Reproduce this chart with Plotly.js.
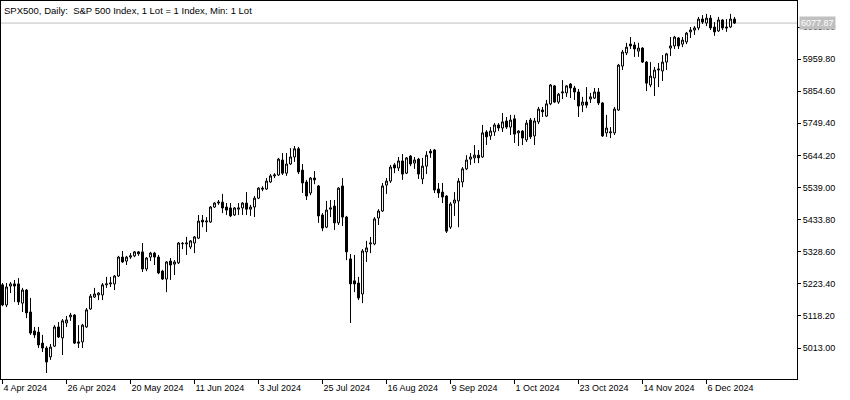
<!DOCTYPE html>
<html><head><meta charset="utf-8">
<script src="https://cdn.plot.ly/plotly-3.0.1.min.js"></script>
<style>html,body{margin:0;padding:0;background:#fff;} #chart{width:850px;height:400px;}</style>
</head><body><div id="chart"></div>
<script>
const openPrices = [5220,5154,5216,5223,5223,5160,5203,5131,5069,5065,5029,5013,4984,5019,5082,5046,5095,5115,5121,5033,
5033,5082,5141,5180,5187,5187,5220,5223,5223,5249,5311,5298,5311,5315,5328,5328,5272,5311,5324,5311,
5265,5239,5298,5288,5292,5356,5354,5344,5357,5373,5432,5426,5426,5475,5488,5491,5475,5472,5449,5468,
5472,5488,5468,5475,5504,5537,5534,5557,5577,5580,5629,5586,5616,5639,5666,5596,5557,5521,5570,5544,
5449,5409,5468,5478,5423,5544,5442,5305,5233,5226,5190,5328,5354,5354,5439,5462,5547,5560,5613,5603,
5626,5586,5642,5619,5632,5567,5609,5658,5662,5534,5524,5511,5409,5488,5495,5557,5600,5632,5636,5645,
5639,5721,5708,5721,5744,5734,5757,5737,5764,5718,5724,5695,5760,5708,5754,5793,5773,5813,5872,5819,
5849,5849,5878,5865,5852,5809,5819,5829,5832,5852,5816,5718,5718,5718,5793,5937,5980,6009,6006,5986,
5996,5950,5875,5898,5924,5921,5950,5996,6003,6029,6009,6016,6049,6055,6062,6091,6078,6094,6065,6052,
6088,6065,6065,6091];
const highPrices = [5226,5226,5229,5236,5242,5210,5206,5177,5082,5082,5056,5019,5026,5088,5098,5108,5118,5128,5124,5088,
5092,5144,5190,5210,5196,5226,5246,5246,5252,5315,5331,5315,5324,5331,5331,5357,5311,5328,5328,5318,
5269,5298,5308,5301,5360,5360,5377,5367,5380,5449,5449,5442,5478,5491,5498,5518,5488,5488,5475,5488,
5491,5524,5482,5511,5540,5543,5570,5583,5586,5636,5652,5652,5668,5675,5672,5616,5564,5573,5593,5547,
5455,5495,5498,5498,5540,5570,5446,5321,5318,5246,5337,5364,5377,5442,5468,5554,5570,5613,5619,5639,
5649,5639,5645,5639,5636,5636,5658,5665,5665,5554,5554,5514,5491,5524,5570,5606,5645,5652,5678,5662,
5744,5727,5737,5750,5750,5783,5770,5777,5777,5727,5727,5760,5767,5767,5803,5803,5826,5878,5875,5849,
5891,5875,5881,5872,5862,5836,5868,5849,5865,5865,5819,5777,5737,5803,5944,5990,6013,6032,6016,6013,
5999,5953,5950,5934,5947,5973,5980,6032,6036,6032,6032,6049,6065,6068,6098,6104,6108,6104,6081,6098,
6091,6091,6108,6098];
const lowPrices = [5150,5147,5193,5164,5154,5131,5111,5056,5046,5013,5000,4931,4974,5016,5046,4990,5082,5102,5026,5013,
5013,5079,5138,5177,5170,5170,5210,5213,5203,5246,5292,5285,5305,5311,5315,5262,5265,5298,5285,5255,
5236,5196,5236,5252,5288,5337,5318,5337,5324,5370,5409,5393,5423,5472,5482,5455,5449,5442,5446,5449,
5449,5449,5446,5442,5501,5527,5531,5554,5570,5577,5580,5577,5613,5623,5583,5521,5498,5514,5550,5423,
5396,5406,5442,5400,5416,5413,5301,5095,5196,5170,5160,5295,5324,5350,5416,5459,5518,5554,5586,5593,
5564,5583,5609,5600,5567,5550,5583,5636,5521,5505,5488,5390,5403,5446,5409,5540,5596,5613,5619,5619,
5636,5678,5695,5708,5724,5721,5731,5711,5685,5675,5678,5688,5698,5678,5747,5770,5770,5809,5816,5813,
5829,5836,5832,5826,5770,5786,5800,5816,5829,5809,5705,5705,5701,5711,5790,5924,5973,5993,5967,5967,
5947,5855,5868,5839,5868,5888,5924,5970,5993,5993,5999,6009,6029,6039,6055,6075,6068,6055,6036,6049,
6055,6049,6062,6075];
const closePrices = [5154,5213,5223,5216,5164,5203,5128,5062,5056,5023,5013,4967,5016,5082,5049,5102,5105,5121,5029,5029,
5088,5138,5183,5190,5193,5220,5223,5226,5249,5311,5295,5311,5315,5328,5322,5272,5308,5324,5311,5259,
5239,5295,5285,5295,5357,5355,5357,5364,5377,5429,5426,5429,5475,5488,5491,5472,5465,5446,5472,5472,
5488,5468,5475,5504,5537,5534,5560,5577,5580,5632,5586,5616,5639,5666,5590,5554,5511,5570,5564,5446,
5406,5465,5472,5423,5537,5442,5328,5223,5223,5177,5331,5341,5357,5436,5462,5544,5560,5606,5603,5626,
5583,5636,5616,5629,5583,5609,5645,5652,5531,5521,5508,5396,5485,5498,5560,5600,5629,5639,5645,5636,
5718,5705,5724,5744,5734,5754,5737,5760,5714,5724,5701,5750,5705,5757,5796,5787,5813,5875,5819,5845,
5852,5872,5865,5852,5806,5819,5809,5836,5852,5816,5708,5734,5721,5796,5940,5983,5999,6003,5993,5996,
5950,5881,5904,5924,5927,5950,5977,6003,6032,6003,6022,6045,6055,6062,6091,6081,6094,6062,6049,6088,
6062,6062,6091,6077.87];
const xTickLabels = ['4 Apr 2024','26 Apr 2024','20 May 2024','11 Jun 2024','3 Jul 2024','25 Jul 2024',
'16 Aug 2024','9 Sep 2024','1 Oct 2024','23 Oct 2024','14 Nov 2024','6 Dec 2024'];
const barsPerXTick = 16;
const yTickValues = [5013.00,5118.20,5223.40,5328.60,5433.80,5539.00,5644.20,5749.40,5854.60,5959.80,6065.00];
const lastPrice = 6077.87;
const chartTitle = 'SPX500, Daily:\u00a0 S&P 500 Index, 1 Lot = 1 Index, Min: 1 Lot';

const barIndex = closePrices.map((_, i) => i);
const xTickVals = xTickLabels.map((_, k) => k * barsPerXTick);

const trace = {
  type: 'candlestick',
  x: barIndex, open: openPrices, high: highPrices, low: lowPrices, close: closePrices,
  increasing: {line: {color: '#000', width: 1}, fillcolor: '#fff'},
  decreasing: {line: {color: '#000', width: 1}, fillcolor: '#000'},
  whiskerwidth: 0,
  hoverinfo: 'skip'
};

const layout = {
  width: 850, height: 400,
  margin: {l: 1, r: 53, t: 1, b: 21, pad: 0},
  paper_bgcolor: '#fff', plot_bgcolor: '#fff',
  showlegend: false,
  hovermode: false,
  font: {family: 'Liberation Sans, Arial, sans-serif', size: 9, color: '#000'},
  title: {text: chartTitle, xref: 'container', x: 4/850, xanchor: 'left', yref: 'container', y: 1 - 11/400, yanchor: 'middle',
          font: {family: 'Liberation Sans, Arial, sans-serif', size: 9.5, color: '#000'}},
  xaxis: {
    range: [-0.375, 198.625], tickmode: 'array', tickvals: xTickVals, ticktext: xTickLabels,
    ticks: 'outside', ticklen: 4, tickcolor: '#000', tickwidth: 1,
    ticklabelposition: 'outside right',
    showline: true, linecolor: '#000', linewidth: 1, mirror: true,
    showgrid: false, zeroline: false, rangeslider: {visible: false}, fixedrange: true
  },
  yaxis: {
    side: 'right', range: [4911.4, 6150.2], tickmode: 'array', tickvals: yTickValues,
    ticktext: yTickValues.map(v => v.toFixed(2)),
    ticks: 'outside', ticklen: 3, tickcolor: '#000', tickwidth: 1,
    showline: true, linecolor: '#000', linewidth: 1, mirror: true,
    showgrid: false, zeroline: false, fixedrange: true
  },
  shapes: [{type: 'line', xref: 'paper', x0: 0, x1: 1, yref: 'y', y0: lastPrice, y1: lastPrice,
            line: {color: '#c0c0c0', width: 1}, layer: 'below'}],
  annotations: [{xref: 'paper', x: 1, xanchor: 'left', yref: 'y', y: lastPrice, yanchor: 'middle',
                 text: lastPrice.toFixed(2), showarrow: false, bgcolor: '#c0c0c0', borderpad: 1, xshift: 2,
                 font: {family: 'Liberation Sans, Arial, sans-serif', size: 9, color: '#fff'}}]
};

Plotly.newPlot('chart', [trace], layout, {displayModeBar: false, staticPlot: true});
</script>
</body></html>
